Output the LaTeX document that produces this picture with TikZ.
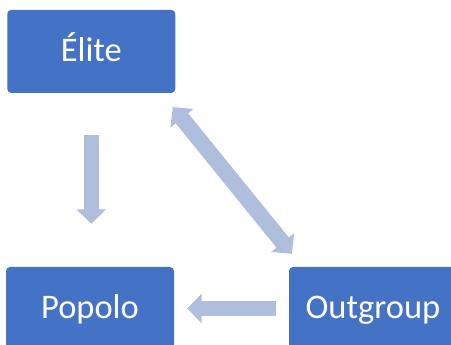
\documentclass[tikz,border=0pt]{standalone}
\usepackage{fontspec}
\setmainfont{Carlito}
\usetikzlibrary{arrows.meta,calc}
\definecolor{boxblue}{HTML}{4472C4}
\definecolor{arrowblue}{HTML}{B0BEDE}
\tikzset{
  box/.style={draw=none, fill=boxblue, rounded corners=4pt, minimum width=168pt,
    minimum height=83pt, inner sep=0pt, text=white, font=\fontsize{34.5pt}{40pt}\selectfont,
    text height=24pt, text depth=4pt},
  fatarrow/.style={draw=arrowblue, line width=15.5pt,
    -{Triangle[width=29pt,length=14.5pt]}},
  fatdarrow/.style={draw=arrowblue, line width=16pt,
    {Triangle[width=29pt,length=14.5pt]}-{Triangle[width=29pt,length=14.5pt]}}
}
\begin{document}
\begin{tikzpicture}[x=1pt,y=-1pt]
\useasboundingbox (0,0) rectangle (451,345);
\node[box] (elite) at (91.3,51.4) {Élite};
\node[box] (popolo) at (90,308.5) {Popolo};
\node[box] (outgroup) at (373,308.5) {Outgroup};
\draw[fatarrow, shorten <=42pt, shorten >=43pt] (elite.south) -- (elite.south |- popolo.north);
\draw[fatarrow, shorten <=13pt, shorten >=13pt] (outgroup.west) -- (popolo.east);
\draw[fatdarrow] ($(elite.south east)+(-2.7,14)$) -- ($(outgroup.north west)+(3,-13)$);
\end{tikzpicture}
\end{document}
